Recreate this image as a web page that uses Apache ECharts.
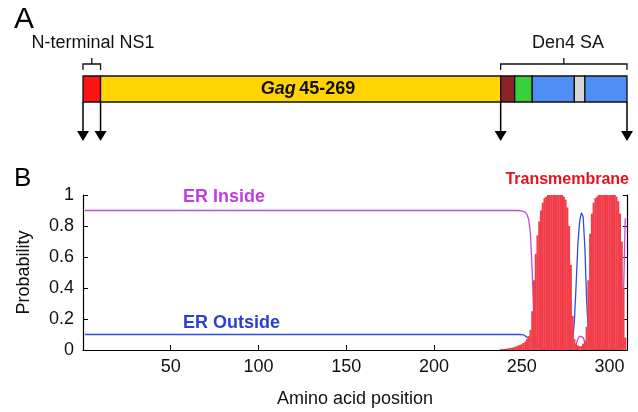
<!DOCTYPE html>
<html>
<head>
<meta charset="utf-8">
<script src="https://cdn.jsdelivr.net/npm/echarts@6/dist/echarts.min.js"></script>
<style>html,body{margin:0;padding:0;background:#fff;}#c{width:638px;height:412px;}</style>
</head>
<body>
<div id="c"></div>
<script>
// ---- Panel A: construct domains (amino-acid coordinates) ----
const segStart = [0, 10, 238, 246, 256, 280, 286];
const segEnd   = [10, 238, 246, 256, 280, 286, 310];
const segColors = ['#ff1414', '#ffd400', '#8c2323', '#38d03c', '#4f8ff5', '#d6d6d6', '#4f8ff5'];
const arrowPos = [0, 10, 238, 310];
const bracketStart = [0, 238];
const bracketEnd = [10, 310];

// ---- Panel B: TMHMM-style probabilities ----
const xTicks = [50, 100, 150, 200, 250, 300];
const insidePts = [[1,0.9],[248,0.9],[250,0.898],[251,0.895],[252,0.89],[253,0.875],[254,0.84],[255,0.75],[256,0.5],[257,0.2],[258,0.07],[259,0.03],[260,0.015],[262,0.01],[270,0.005],[278,0.01],[280,0.02],[281,0.04],[282,0.07],[283,0.09],[284,0.095],[285,0.08],[286,0.05],[287,0.025],[289,0.01],[295,0.005],[304,0.005],[306,0.02],[307,0.08],[308,0.35],[309,0.85]];
const outsidePts = [[1,0.1],[249,0.1],[251,0.098],[252,0.09],[254,0.075],[256,0.055],[258,0.035],[260,0.018],[262,0.007],[264,0.002],[276,0.002],[278,0.02],[279,0.06],[280,0.18],[281,0.42],[282,0.68],[283,0.83],[284,0.885],[285,0.86],[286,0.66],[287,0.32],[288,0.11],[289,0.04],[290,0.015],[292,0.005],[305,0.005],[307,0.02],[308,0.05],[309,0.04]];
const tmStartPos = 238;
const tmValues = [0.005,0.006,0.007,0.008,0.01,0.012,0.014,0.016,0.02,0.024,0.028,0.032,0.038,0.045,0.055,0.07,0.09,0.13,0.25,0.45,0.62,0.74,0.83,0.9,0.95,0.98,0.99,1,1,1,1,1,1,1,1,1,0.99,0.97,0.92,0.8,0.55,0.22,0.07,0.04,0.03,0.025,0.025,0.04,0.06,0.15,0.45,0.75,0.88,0.95,0.98,0.99,1,1,1,1,1,1,1,1,1,1,0.99,0.96,0.88,0.7,0.4,0.08];

const FONT = "'Liberation Sans', Arial, sans-serif";
const tmData = tmValues.map((v, i) => [tmStartPos + i, v]);
const segData = segStart.map((s, i) => [s, segEnd[i], i]);
const bracketData = bracketStart.map((s, i) => [s, bracketEnd[i]]);

const chart = echarts.init(document.getElementById('c'), null, {renderer: 'canvas'});
chart.setOption({
  animation: false,
  backgroundColor: '#fff',
  grid: [
    {left: 83, right: 11, top: 76, height: 26},
    {left: 83, right: 11, top: 195, bottom: 62}
  ],
  xAxis: [
    {gridIndex: 0, type: 'value', min: 0, max: 310, show: false},
    {gridIndex: 1, type: 'value', min: 0, max: 310, interval: 50,
     name: 'Amino acid position', nameLocation: 'middle', nameGap: 40,
     nameTextStyle: {fontFamily: FONT, fontSize: 18, color: '#111'},
     axisLine: {lineStyle: {color: '#000', width: 1.2}},
     axisTick: {inside: true, length: 5, lineStyle: {color: '#000'}},
     axisLabel: {fontFamily: FONT, fontSize: 18, color: '#111', margin: 8,
       formatter: v => (xTicks.indexOf(v) >= 0 ? String(v) : '')},
     splitLine: {show: false}}
  ],
  yAxis: [
    {gridIndex: 0, type: 'value', min: 0, max: 1, show: false},
    {gridIndex: 1, type: 'value', min: 0, max: 1, interval: 0.2,
     name: 'Probability', nameLocation: 'middle', nameGap: 50,
     nameTextStyle: {fontFamily: FONT, fontSize: 18, color: '#111'},
     axisLine: {show: true, lineStyle: {color: '#000', width: 1.2}},
     axisTick: {show: true, inside: true, length: 5, lineStyle: {color: '#000'}},
     axisLabel: {fontFamily: FONT, fontSize: 18, color: '#111', margin: 9},
     splitLine: {show: false}},
    {gridIndex: 1, type: 'value', min: 0, max: 1, interval: 0.2, position: 'right',
     axisLine: {show: true, lineStyle: {color: '#000', width: 1.2}},
     axisTick: {show: true, inside: true, length: 4, lineStyle: {color: '#000'}},
     axisLabel: {show: false}, splitLine: {show: false}}
  ],
  series: [
    {
      type: 'custom', xAxisIndex: 0, yAxisIndex: 0, data: segData,
      renderItem: function (params, api) {
        const p0 = api.coord([api.value(0), 1]);
        const p1 = api.coord([api.value(1), 0]);
        return {type: 'rect', shape: {x: p0[0], y: p0[1], width: p1[0] - p0[0], height: p1[1] - p0[1]},
          style: {fill: segColors[api.value(2)], stroke: '#111', lineWidth: 1.3}};
      }
    },
    {
      type: 'custom', xAxisIndex: 0, yAxisIndex: 0, data: arrowPos.map(v => [v]),
      renderItem: function (params, api) {
        const p = api.coord([api.value(0), 0]);
        return {type: 'group', children: [
          {type: 'line', shape: {x1: p[0], y1: p[1], x2: p[0], y2: p[1] + 30}, style: {stroke: '#000', lineWidth: 1.5}},
          {type: 'polygon', shape: {points: [[p[0] - 6, p[1] + 29], [p[0] + 6, p[1] + 29], [p[0], p[1] + 39]]}, style: {fill: '#000'}}
        ]};
      }
    },
    {
      type: 'custom', xAxisIndex: 0, yAxisIndex: 0, data: bracketData,
      renderItem: function (params, api) {
        const a = api.coord([api.value(0), 1]);
        const b = api.coord([api.value(1), 1]);
        const y = a[1] - 12;
        return {type: 'polyline', shape: {points: [[a[0], y + 6], [a[0], y], [b[0], y], [b[0], y + 6]]},
          style: {stroke: '#111', lineWidth: 1.3, fill: null}};
      }
    },
    {
      type: 'custom', xAxisIndex: 0, yAxisIndex: 0, data: bracketData,
      renderItem: function (params, api) {
        const a = api.coord([api.value(0), 1]);
        const b = api.coord([api.value(1), 1]);
        const y = a[1] - 12, m = (a[0] + b[0]) / 2;
        return {type: 'line', shape: {x1: m, y1: y, x2: m, y2: y - 6}, style: {stroke: '#111', lineWidth: 1.3}};
      }
    },
    {
      name: 'ER Inside', type: 'line', xAxisIndex: 1, yAxisIndex: 1, data: insidePts,
      showSymbol: false, z: 2, lineStyle: {color: '#c04ae0', width: 1.3}
    },
    {
      name: 'ER Outside', type: 'line', xAxisIndex: 1, yAxisIndex: 1, data: outsidePts,
      showSymbol: false, z: 2, lineStyle: {color: '#2f4fe0', width: 1.3}
    },
    {
      name: 'Transmembrane', type: 'bar', xAxisIndex: 1, yAxisIndex: 1, data: tmData,
      barWidth: 2.1, z: 3, itemStyle: {color: '#f23e4b'}
    }
  ],
  graphic: [
    {type: 'text', left: 14, top: 5, style: {text: 'A', font: "30px " + FONT, fill: '#000'}},
    {type: 'text', left: 14, top: 166, style: {text: 'B', font: "26px " + FONT, fill: '#000'}},
    {type: 'text', x: 93, y: 43, style: {text: 'N-terminal NS1', font: "18px " + FONT, fill: '#111', align: 'center', verticalAlign: 'middle'}},
    {type: 'text', x: 568, y: 43, style: {text: 'Den4 SA', font: "18px " + FONT, fill: '#111', align: 'center', verticalAlign: 'middle'}},
    {type: 'text', x: 308, y: 89, z: 10, style: {text: '{i|Gag} {b|45-269}', align: 'center', verticalAlign: 'middle',
      rich: {i: {fontFamily: FONT, fontSize: 18, fontWeight: 'bold', fontStyle: 'italic', fill: '#111'},
             b: {fontFamily: FONT, fontSize: 18, fontWeight: 'bold', fill: '#111'}}}},
    {type: 'text', x: 183, y: 197, style: {text: 'ER Inside', font: "bold 18px " + FONT, fill: '#c03ee0', align: 'left', verticalAlign: 'middle'}},
    {type: 'text', x: 183, y: 323, style: {text: 'ER Outside', font: "bold 18px " + FONT, fill: '#2b3fd2', align: 'left', verticalAlign: 'middle'}},
    {type: 'text', x: 629, y: 180, style: {text: 'Transmembrane', font: "bold 16px " + FONT, fill: '#e8101e', align: 'right', verticalAlign: 'middle'}}
  ]
});
</script>
</body>
</html>
